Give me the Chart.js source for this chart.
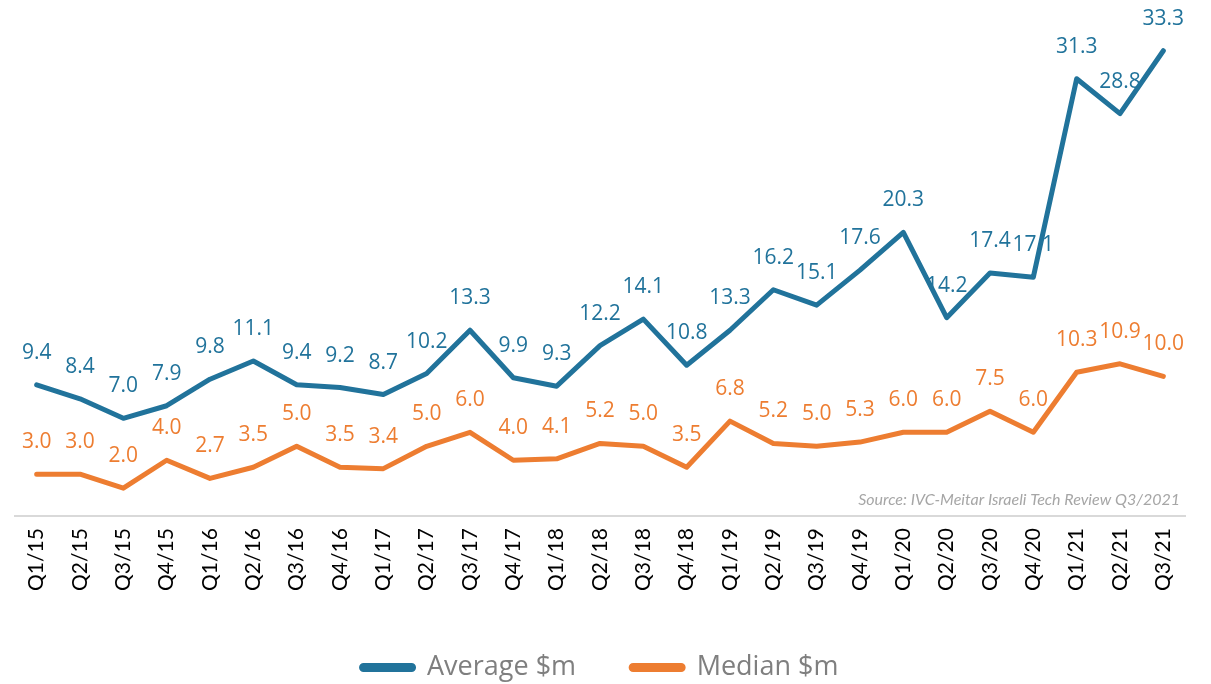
<!DOCTYPE html>
<html>
<head>
<meta charset="utf-8">
<script src="https://cdn.jsdelivr.net/npm/chart.js@4.4.0/dist/chart.umd.min.js"></script>
<style>
  html, body { margin: 0; padding: 0; background: #ffffff; }
  #wrap { width: 1211px; height: 684px; position: relative; }
</style>
</head>
<body>
<div id="wrap"><canvas id="c" width="1211" height="684"></canvas></div>
<script>
const categories = ["Q1/15","Q2/15","Q3/15","Q4/15","Q1/16","Q2/16","Q3/16","Q4/16","Q1/17","Q2/17","Q3/17","Q4/17","Q1/18","Q2/18","Q3/18","Q4/18","Q1/19","Q2/19","Q3/19","Q4/19","Q1/20","Q2/20","Q3/20","Q4/20","Q1/21","Q2/21","Q3/21"];
const averageValues = [9.4, 8.4, 7.0, 7.9, 9.8, 11.1, 9.4, 9.2, 8.7, 10.2, 13.3, 9.9, 9.3, 12.2, 14.1, 10.8, 13.3, 16.2, 15.1, 17.6, 20.3, 14.2, 17.4, 17.1, 31.3, 28.8, 33.3];
const medianValues = [3.0, 3.0, 2.0, 4.0, 2.7, 3.5, 5.0, 3.5, 3.4, 5.0, 6.0, 4.0, 4.1, 5.2, 5.0, 3.5, 6.8, 5.2, 5.0, 5.3, 6.0, 6.0, 7.5, 6.0, 10.3, 10.9, 10.0];
const seriesNames = ["Average $m", "Median $m"];
const sourceText = "Source: IVC-Meitar Israeli Tech Review Q3/2021";

const BLUE = "#21739b";
const ORANGE = "#ed7d31";

const labelPlugin = {
  id: "valueLabels",
  afterDatasetsDraw(chart) {
    const ctx = chart.ctx;
    ctx.save();
    ctx.font = "21px 'Open Sans'";
    ctx.textAlign = "center";
    ctx.textBaseline = "middle";
    chart.data.datasets.forEach((ds, i) => {
      const meta = chart.getDatasetMeta(i);
      ctx.fillStyle = ds.borderColor;
      meta.data.forEach((pt, j) => {
        ctx.fillText(ds.data[j].toFixed(1), pt.x, pt.y - 32);
      });
    });
    ctx.restore();
  }
};

const sourcePlugin = {
  id: "sourceNote",
  afterDraw(chart) {
    const ctx = chart.ctx;
    ctx.save();
    ctx.font = "italic 16px Lato";
    ctx.fillStyle = "#a6a6a6";
    ctx.textAlign = "right";
    ctx.textBaseline = "middle";
    ctx.fillText(sourceText, 1180, chart.chartArea.bottom - 16);
    ctx.restore();
  }
};

new Chart(document.getElementById("c"), {
  type: "line",
  data: {
    labels: categories,
    datasets: [
      { label: seriesNames[0], data: averageValues, borderColor: BLUE, backgroundColor: BLUE,
        borderWidth: 5, pointRadius: 0, tension: 0, borderJoinStyle: "round", borderCapStyle: "round" },
      { label: seriesNames[1], data: medianValues, borderColor: ORANGE, backgroundColor: ORANGE,
        borderWidth: 5, pointRadius: 0, tension: 0, borderJoinStyle: "round", borderCapStyle: "round" }
    ]
  },
  options: {
    responsive: false,
    animation: false,
    layout: { padding: { left: 15, right: 26, top: 13, bottom: -7 } },
    plugins: {
      legend: {
        position: "bottom",
        labels: {
          font: { family: "'Open Sans'", size: 27 },
          color: "#7f7f7f",
          boxWidth: 52,
          boxHeight: 4,
          padding: 13,
          useBorderRadius: true,
          borderRadius: 2,
          generateLabels(chart) {
            const items = Chart.defaults.plugins.legend.labels.generateLabels(chart);
            if (items[0]) items[0].text = items[0].text + "      ";
            return items;
          }
        }
      },
      tooltip: { enabled: false }
    },
    scales: {
      x: {
        offset: true,
        grid: { display: false, drawTicks: false },
        border: { display: true, color: "#d9d9d9", width: 2 },
        ticks: {
          font: { family: "Lato", size: 21 },
          color: "#000000",
          minRotation: 90,
          maxRotation: 90,
          padding: 12,
          autoSkip: false
        },
        afterFit(scale) { scale.height += 38; }
      },
      y: {
        display: false,
        min: 0,
        max: 36
      }
    }
  },
  plugins: [labelPlugin, sourcePlugin]
});
</script>
</body>
</html>
